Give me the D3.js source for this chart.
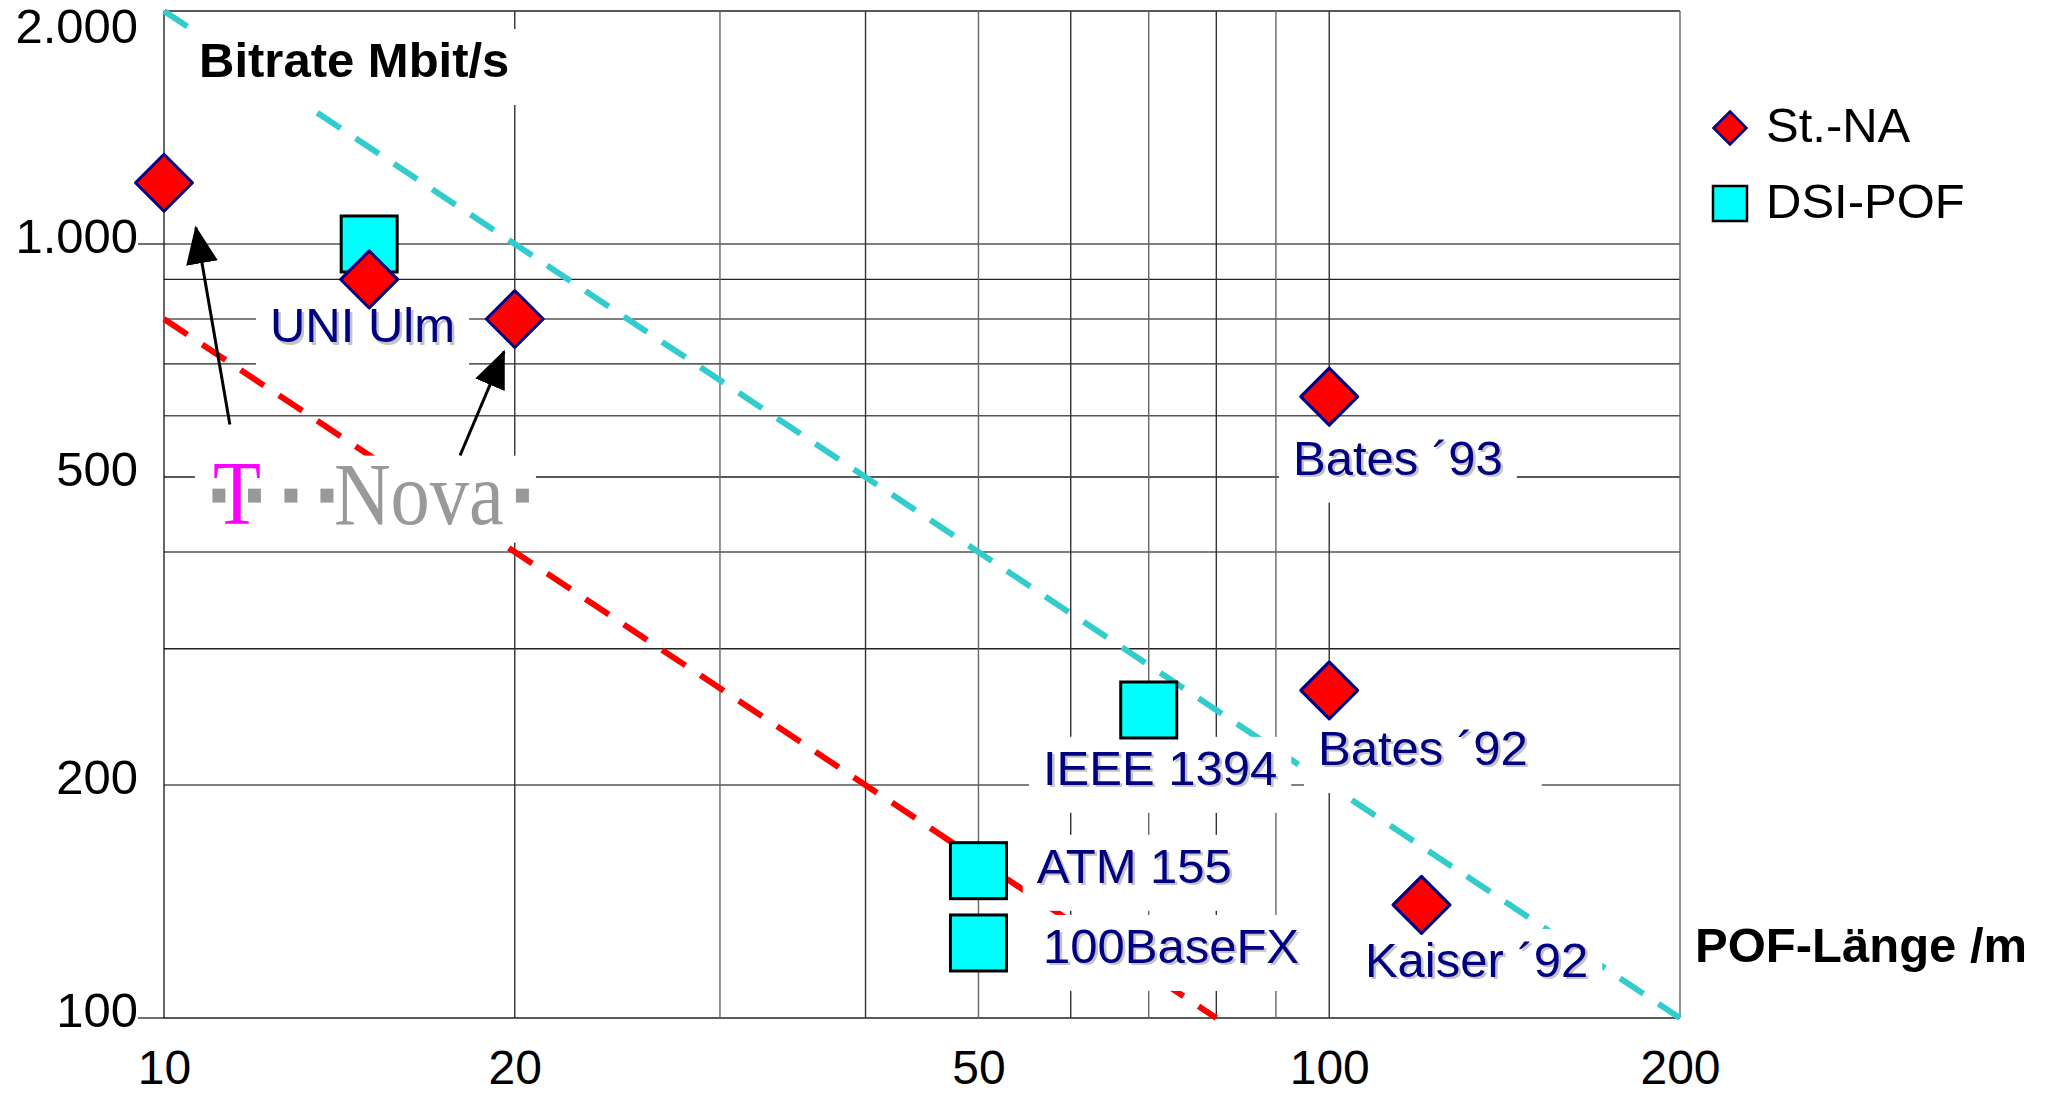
<!DOCTYPE html>
<html><head><meta charset="utf-8">
<script src="https://cdn.jsdelivr.net/npm/d3@7"></script>
<style>
html,body{margin:0;padding:0;background:#fff;overflow:hidden;}
svg{display:block;font-family:"Liberation Sans",Arial,sans-serif;}
</style></head><body>
<svg id="chart" width="2055" height="1095"></svg>
<script>
// ---------- data ----------
const xTickValues = [10, 20, 50, 100, 200];
const yTickValues = [100, 200, 500, 1000, 2000];
const xGridValues = [10, 20, 30, 40, 50, 60, 70, 80, 90, 100, 200];
const yGridValues = [100, 200, 300, 400, 500, 600, 700, 800, 900, 1000, 2000];

const seriesNames = ["St.-NA", "DSI-POF"];
// St.-NA (red diamonds)
const stnaLength  = [10, 15, 20, 100, 100, 120];
const stnaBitrate = [1200, 900, 800, 635, 265, 140];
// DSI-POF (cyan squares)
const dsiLength  = [15, 70, 50, 50];
const dsiBitrate = [1000, 250, 155, 125];

// dashed limit lines (end points, straight in log-log)
const cyanLineLength  = [10, 200];
const cyanLineBitrate = [2000, 100];
const redLineLength   = [10, 80];
const redLineBitrate  = [800, 100];

// point labels (text start, baseline) in data units
const labelTexts   = ["UNI Ulm", "Bates \u00B493", "IEEE 1394", "Bates \u00B492", "ATM 155", "100BaseFX", "Kaiser \u00B492"];
const labelLength  = [12.33, 93.1, 56.8, 97.8, 56.1, 56.8, 107.3];
const labelBitrate = [746, 503.5, 200.1, 212.3, 149.5, 117.8, 113.0];

// arrows from the T-Nova logo (tail -> tip) in data units
const arrowTailLength  = [11.39, 17.95];
const arrowTailBitrate = [584.6, 533];
const arrowTipLength   = [10.65, 19.58];
const arrowTipBitrate  = [1050, 726];

const yTitle = "Bitrate Mbit/s";
const xTitle = "POF-L\u00E4nge /m";

(function () {
// ---------- setup ----------
const svg = d3.select("#chart");
const W = 2055, H = 1095;
const mLeft = 164, mRight = 1680, mTop = 11, mBottom = 1018;

const x = d3.scaleLog().domain([10, 200]).range([mLeft, mRight]);
const y = d3.scaleLog().domain([100, 2000]).range([mBottom, mTop]);

const de = d3.formatLocale({decimal: ",", thousands: ".", grouping: [3], currency: ["", " \u20AC"]});
const fmtY = de.format(",");

svg.append("rect").attr("width", W).attr("height", H).attr("fill", "#fff");

// ---------- grid ----------
const grid = svg.append("g");
grid.selectAll("line.h").data(yGridValues).join("line")
  .attr("x1", mLeft).attr("x2", mRight)
  .attr("y1", d => y(d)).attr("y2", d => y(d))
  .attr("stroke", (d, i) => i % 2 ? "#555" : "#222")
  .attr("stroke-width", 1.4);
grid.selectAll("line.v").data(xGridValues).join("line")
  .attr("y1", mTop).attr("y2", mBottom)
  .attr("x1", d => x(d)).attr("x2", d => x(d))
  .attr("stroke", (d, i) => d === 10 ? "#000" : (i % 2 ? "#333" : "#666"))
  .attr("stroke-width", d => d === 10 ? 1.2 : 1.4);
// small left ticks at decades
grid.selectAll("line.t").data([100, 1000]).join("line")
  .attr("x1", mLeft - 26).attr("x2", mLeft)
  .attr("y1", d => y(d)).attr("y2", d => y(d))
  .attr("stroke", "#333").attr("stroke-width", 1.4);

// ---------- axes ----------
const yAxis = svg.append("g").attr("transform", `translate(${mLeft},0)`)
  .call(d3.axisLeft(y).tickValues(yTickValues).tickFormat(fmtY).tickSize(0).tickPadding(26));
yAxis.select(".domain").remove();
yAxis.selectAll("text")
  .attr("font-size", 49).attr("font-family", "'Liberation Sans', Arial, sans-serif").attr("fill", "#000")
  .attr("y", d => Math.max(y(d) - 7, mTop + 16) - y(d));

const xAxis = svg.append("g").attr("transform", `translate(0,${mBottom})`)
  .call(d3.axisBottom(x).tickValues(xTickValues).tickFormat(d3.format("d")).tickSize(0).tickPadding(32));
xAxis.select(".domain").remove();
xAxis.selectAll("text")
  .attr("font-size", 48).attr("font-family", "'Liberation Sans', Arial, sans-serif").attr("fill", "#000");

// ---------- dashed lines ----------
const lineGen = d3.line().x(d => x(d[0])).y(d => y(d[1]));
svg.append("path").datum(d3.zip(cyanLineLength, cyanLineBitrate))
  .attr("d", lineGen).attr("fill", "none")
  .attr("stroke", "#33CCCC").attr("stroke-width", 6).attr("stroke-dasharray", "28,18");
svg.append("path").datum(d3.zip(redLineLength, redLineBitrate))
  .attr("d", lineGen).attr("fill", "none")
  .attr("stroke", "#FF0000").attr("stroke-width", 6).attr("stroke-dasharray", "28,18");

// ---------- label boxes (white, hide grid) ----------
const boxG = svg.append("g");
const markG = svg.append("g");
const textG = svg.append("g");

function addLabel(txt, px, py, opts) {
  const o = Object.assign({size: 49, weight: "normal", fill: "#000080", shadow: true, pad: 14}, opts || {});
  const g = textG.append("g");
  if (o.shadow) {
    g.append("text").attr("x", px + 2.5).attr("y", py + 2.5).text(txt)
      .attr("font-size", o.size).attr("font-weight", o.weight).attr("fill", "#c4c4c4");
  }
  const t = g.append("text").attr("x", px).attr("y", py).text(txt)
    .attr("font-size", o.size).attr("font-weight", o.weight).attr("fill", o.fill);
  const bb = t.node().getBBox();
  boxG.append("rect")
    .attr("x", bb.x - o.pad).attr("width", bb.width + 2 * o.pad)
    .attr("y", py - 48).attr("height", 76).attr("fill", "#fff");
}

labelTexts.forEach((t, i) => addLabel(t, x(labelLength[i]), y(labelBitrate[i])));
// y axis title inside plot
addLabel(yTitle, mLeft + 35, mTop + 66, {weight: "bold", fill: "#000", shadow: false, pad: 10});

// ---------- T-Nova logo box ----------
const logoX = x(10.63), logoY = y(532.8);
boxG.append("rect").attr("x", logoX).attr("y", logoY).attr("width", 341).attr("height", 87).attr("fill", "#fff");

// ---------- markers ----------
const diamond = r => `M0,${-r}L${r},0L0,${r}L${-r},0Z`;
markG.selectAll("rect.dsi").data(d3.zip(dsiLength, dsiBitrate)).join("rect")
  .attr("x", d => x(d[0]) - 28).attr("y", d => y(d[1]) - 28)
  .attr("width", 56).attr("height", 56)
  .attr("fill", "#00FFFF").attr("stroke", "#000").attr("stroke-width", 3);
markG.selectAll("path.stna").data(d3.zip(stnaLength, stnaBitrate)).join("path")
  .attr("transform", d => `translate(${x(d[0])},${y(d[1])})`)
  .attr("d", diamond(28.5))
  .attr("fill", "#FF0000").attr("stroke", "#000080").attr("stroke-width", 3).attr("stroke-linejoin", "round");

// logo content
const logo = svg.append("g").attr("transform", `translate(${logoX},${logoY})`);
[24, 59.5, 96, 132, 327.5].forEach(cx => {
  logo.append("rect").attr("x", cx - 6.5).attr("y", 33).attr("width", 13).attr("height", 14).attr("fill", "#999");
});
logo.append("text").attr("x", 18).attr("y", 68).text("T")
  .attr("font-family", "'Liberation Serif', 'Times New Roman', serif").attr("font-size", 90)
  .attr("fill", "#FF00FF").attr("textLength", 48).attr("lengthAdjust", "spacingAndGlyphs");
logo.append("text").attr("x", 139).attr("y", 68).text("Nova")
  .attr("font-family", "'Liberation Serif', 'Times New Roman', serif").attr("font-size", 88)
  .attr("fill", "#999").attr("textLength", 170).attr("lengthAdjust", "spacingAndGlyphs");

// ---------- arrows ----------
const defs = svg.append("defs");
defs.append("marker").attr("id", "ah").attr("markerUnits", "userSpaceOnUse")
  .attr("viewBox", "0 -17 38 34").attr("markerWidth", 38).attr("markerHeight", 34)
  .attr("refX", 36).attr("refY", 0).attr("orient", "auto")
  .append("path").attr("d", "M0,-16L38,0L0,16Z").attr("fill", "#000");
arrowTailLength.forEach((_, i) => {
  svg.append("line")
    .attr("x1", x(arrowTailLength[i])).attr("y1", y(arrowTailBitrate[i]))
    .attr("x2", x(arrowTipLength[i])).attr("y2", y(arrowTipBitrate[i]))
    .attr("stroke", "#000").attr("stroke-width", 3).attr("marker-end", "url(#ah)");
});

// ---------- x axis title ----------
svg.append("text").attr("x", mRight + 15).attr("y", 962).text(xTitle)
  .attr("font-size", 49).attr("font-weight", "bold").attr("fill", "#000");

// ---------- legend ----------
const lg = svg.append("g").attr("transform", `translate(${mRight + 50},0)`);
lg.append("path").attr("transform", "translate(0,128)").attr("d", diamond(16.5))
  .attr("fill", "#FF0000").attr("stroke", "#000080").attr("stroke-width", 2.5);
lg.append("rect").attr("x", -17).attr("y", 186).attr("width", 34).attr("height", 35)
  .attr("fill", "#00FFFF").attr("stroke", "#000").attr("stroke-width", 2.5);
lg.selectAll("text").data(seriesNames).join("text")
  .attr("x", 36).attr("y", (d, i) => i ? 218 : 142).text(d => d)
  .attr("font-size", 49).attr("fill", "#000");
})();
</script>
</body></html>
